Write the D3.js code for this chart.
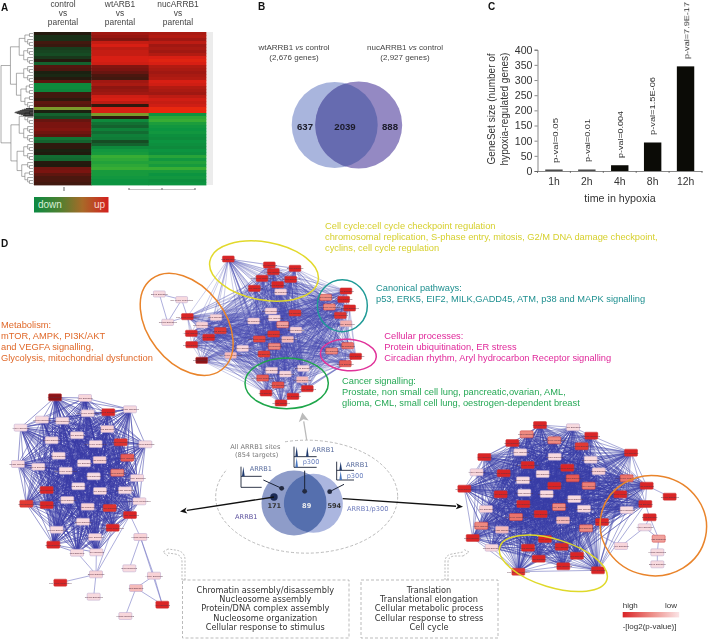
<!DOCTYPE html>
<html><head><meta charset="utf-8">
<script src="https://cdn.jsdelivr.net/npm/d3@7"></script>
<style>
html,body{margin:0;padding:0;background:#fff}
svg{display:block;filter:blur(0.45px)}
text{font-family:"Liberation Sans",Arial,sans-serif}
.dv{font-family:"DejaVu Sans",sans-serif}
</style></head><body>
<svg id="c" width="708" height="639" viewBox="0 0 708 639"></svg>
<script>
// ---------- Panel A data ----------
const heatColumns = ["control vs parental","wtARB1 vs parental","nucARRB1 vs parental"];
const heatControl = [.05,-.15,-.15,.2,.15,-.25,-.3,-.35,-.2,.05,-.5,.3,.25,-.05,-.1,.05,.35,-.9,-.9,-.85,.2,.2,.1,.35,.3,-1.8,-.05,-.5,-.35,.4,.5,.5,.55,.45,.35,-.7,-.5,.1,.1,-.05,.02,-.6,-.55,.05,.02,.45,.5,.35,.25,.25,.2];
const heatWt = [.7,.65,.55,.9,1,.85,.9,.9,1,1,.95,.55,.5,.4,.25,.2,.7,.75,.6,.65,.7,.95,1,.85,.1,1,1,-1.8,.1,-.9,-.65,-.5,-.8,-.6,-.8,-.75,-.35,-.5,-.9,-1.05,-1.1,-1.4,-1.3,-1.2,-1.3,-1.4,-1.1,-1.1,-1.05,-1,-1];
const heatNuc = [.75,.8,.7,.85,.7,.75,.7,.8,1,1.05,1,.8,.75,.7,.75,.8,1,.95,.8,.75,.7,.85,.95,.9,.95,1.1,1.1,-1,-1.3,-1.4,-1.15,-1.05,-1,-1.05,-.95,-.9,-1,-.95,-.9,-1,-.95,-1.25,-1.05,-1.2,-1.1,-1.4,-1.1,-1,-1.05,-.95,-1];
const heatHeaders = [["control","vs","parental"],["wtARB1","vs","parental"],["nucARRB1","vs","parental"]];
// ---------- Panel B data ----------
const vennGenes = [637,2039,888];
const vennTitles = [["wtARRB1 ","vs"," control","(2,676 genes)"],["nucARRB1 ","vs"," control","(2,927 genes)"]];
// ---------- Panel C data ----------
const hypoxiaTimes = ["1h","2h","4h","8h","12h"];
const hypoxiaSizes = [5,5,19,94,345];
const hypoxiaPvals = ["p-val=0.05","p-val=0.01","p-val=0.004","p-val=1.5E-06","p-val=7.9E-17"];
const hypoxiaTicks = [0,50,100,150,200,250,300,350,400];
// ---------- Panel D networks: node layout [x, y, significance] in layout units ----------
const topNodes = [[295,132,1],[418,150,1],[430,170,1],[495,160,1],[396,190,1],[482,193,1],[443,209,1],[373,220,1],[452,231,.2],
[648,228,1],[641,253,1],[587,247,.5],[598,276,.5],[659,279,1],[631,301,.9],[648,326,.35],
[653,392,.6],[605,408,.5],[677,424,1],[646,446,.7],
[172,305,1],[216,330,.2],[258,307,.2],[184,355,1],[271,347,.85],[236,367,1],[185,389,1],[215,436,1.4],[302,421,.3],
[423,288,.2],[495,294,.9],[433,309,.15],[371,318,.2],[458,329,.4],[431,357,.9],[498,345,.2],[388,372,.8],[473,373,.3],[433,394,.5],[338,400,.15],[402,417,.85],
[425,466,.15],[466,477,.15],[520,460,.1],[398,489,.7],[517,494,.3],[444,510,.75],[532,521,1],[408,534,1],[489,544,1],[453,564,1]];
const topOuter = [[88,237,.1],[155,254,.1],[113,322,.1]];
const topOuterLinks = [[0,1],[0,2],[1,"c20"],[2,"c20"],[2,1]];
const leftNodes = [[165,52,1.4],[255,54,.15],[390,88,.1],[325,97,1],[263,100,.1],[126,119,.1],[187,122,.1],[62,143,.05],[322,147,.2],[231,166,.1],[155,181,.1],[362,187,.9],[287,192,.1],[436,193,.1],[176,227,.1],[382,233,.7],[299,240,.2],[252,250,.05],[54,252,.1],[115,260,.1],[197,272,.1],[352,278,.5],[281,289,.05],[411,294,.1],[235,319,.05],[300,333,.1],[375,331,.1],[140,330,1],[418,364,.1],[202,360,.1],[79,371,.85],[140,375,1],[263,380,.2],[329,384,.9],[390,405,1],[249,425,.1],[338,443,1],[170,449,.1],[160,494,1],[285,471,.15],[231,518,.1],[289,517,.1]];
const leftOuter = [[421,471,.2],[288,583,.2],[181,608,1],[281,650,.1],[388,565,.1],[462,587,.2],[408,624,.3],[487,674,1],[376,708,.15]];
const leftOuterLinks = [[0,"c34"],[0,4],[0,5],[0,7],[5,6],[6,7],[6,8],[5,7],[1,2],[1,3],[1,"c40"],[1,"c41"],[1,"c34"],[1,"c36"]];
const rightNodes = [[300,135,1],[399,142,.1],[454,167,1],[260,163,.5],[343,181,.5],[425,199,.85],[217,189,1],[241,217,.1],[573,218,1],[133,231,1],[344,230,.1],[452,239,.1],[263,255,1],[382,263,1],[476,274,.2],[110,277,.15],[191,280,1],[308,282,.1],[398,295,.7],[249,301,.1],[560,295,.6],[73,326,1],[343,317,1],[446,317,.55],[620,317,1],[182,343,1],[253,338,.05],[320,342,.1],[541,343,1],[403,357,.1],[250,372,1],[357,381,.5],[616,372,1],[138,387,.2],[432,386,.1],[560,390,.1],[228,411,.6],[302,402,1],[369,421,.3],[124,437,.5],[438,445,.5],[486,426,1],[186,449,.3],[98,474,1],[315,477,1],[155,503,.15],[264,503,1],[365,500,1],[411,527,1],[296,536,1],[370,559,1],[474,571,1],[235,575,.9]];
const rightOuter = [[689,350,1],[629,412,1],[614,442,.1],[656,476,.4],[543,498,.15],[652,517,.1],[652,553,.1]];
const rightOuterLinks = [[1,2],[1,3],[2,3],[2,4],[3,5],[5,6],[4,"c40"],[1,"c32"],[0,"c24"]];
const pathwayNames = ["p53 Signaling","ATM Signaling","mTOR Signaling","ERK5 Signaling","Cell Cycle Regulation","Glioma Signaling","EIF2 Signaling","AMPK Signaling"];
// Panel D text
const themeTexts = [
 {col:"#d6d02e",lines:["Cell cycle:cell cycle checkpoint regulation","chromosomal replication, S-phase entry, mitosis, G2/M DNA damage checkpoint,","cyclins, cell cycle regulation"],x:325,y:229,dy:11.2},
 {col:"#1f9090",lines:["Canonical pathways:","p53, ERK5, EIF2, MILK,GADD45, ATM, p38 and MAPK signalling"],x:376,y:291,dy:11},
 {col:"#e0289a",lines:["Cellular processes:","Protein ubiquitination, ER stress","Circadian rhythm, Aryl hydrocarbon Receptor signalling"],x:384.3,y:339,dy:10.8},
 {col:"#25a855",lines:["Cancer signalling:","Prostate, non small cell lung, pancreatic,ovarian, AML,","glioma, CML, small cell lung, oestrogen-dependent breast"],x:342,y:384,dy:11},
 {col:"#e0692a",lines:["Metabolism:","mTOR, AMPK, PI3K/AKT","and VEGFA signalling,","Glycolysis, mitochondrial dysfunction"],x:1,y:328,dy:11}];
const leftBoxLines = ["Chromatin assembly/disassembly","Nucleosome assembly","Protein/DNA complex assembly","Nucleosome organization","Cellular response to stimulus"];
const rightBoxLines = ["Translation","Translational elongation","Cellular metabolic process","Cellular response to stress","Cell cycle"];
const arrbCounts = [171,89,594];

const svg = d3.select("#c");
const T=(g,x,y,s,size,col,anchor,weight)=>g.append("text").attr("x",x).attr("y",y).text(s).attr("font-size",size).attr("fill",col||"#333").attr("text-anchor",anchor||"start").attr("font-weight",weight||null);
const letter=(s,x,y)=>T(svg,x,y,s,10,"#111","start","bold");
letter("A",1,11);letter("B",258,10);letter("C",488,10);letter("D",1,247);

// ===== A =====
const gA = svg.append("g");
const heatColor = d3.scaleLinear().domain([-1.8,-1.4,-1,-.5,0,.5,1,1.1]).range(["#7c9a2c","#38ad34","#0c9440","#14622e","#1c1a0e","#7a1410","#d81f14","#e8280f"]);
const rowIdx = d3.range(heatControl.length);
const xHeat = d3.scaleBand().domain(heatColumns).range([34,206]);
const yHeat = d3.scaleBand().domain(rowIdx).range([32,185]);
[heatControl,heatWt,heatNuc].forEach((vals,c)=>{
  gA.append("g").selectAll("rect").data(vals).join("rect")
    .attr("x",xHeat(heatColumns[c])).attr("width",xHeat.bandwidth()+.4)
    .attr("y",(d,i)=>yHeat(i)).attr("height",yHeat.bandwidth()+.4).attr("fill",d=>heatColor(d));
  heatHeaders[c].forEach((s,i)=>{
    const cx=[63,120,178][c], y0=[7,6.8,6.6][c];
    T(gA,cx,y0+i*9,s,8.4,"#444","middle");
  });
});
gA.append("rect").attr("x",207).attr("y",32).attr("width",6).attr("height",153).attr("fill","#ececec");
// dendrogram from row-order tree
function makeTree(lo,hi){
  const n={lo,hi};
  if(hi-lo>1){const m=lo+Math.max(1,Math.round((hi-lo)*.42));n.children=[makeTree(lo,m),makeTree(m,hi)];}
  return n;
}
const leafCount=heatControl.length;
const tree=d3.hierarchy({lo:0,hi:leafCount,children:[makeTree(0,26),makeTree(26,leafCount)]});
const dx=d3.scalePow().exponent(.42).domain([leafCount,1]).range([1,32]);
tree.eachAfter(d=>{d.py=d.children?d3.mean(d.children,c=>c.py):yHeat(d.data.lo)+yHeat.bandwidth()/2;d.px=d.children?dx(d.data.hi-d.data.lo):33;});
gA.append("g").selectAll("path").data(tree.links()).join("path")
 .attr("d",l=>`M${l.source.px},${l.source.py}V${l.target.py}H${l.target.px}`)
 .attr("fill","none").attr("stroke","#666").attr("stroke-width",.55);
// tight central tuft of near-identical rows
gA.append("g").selectAll("line").data(d3.range(108.5,116.5,.7)).join("line")
 .attr("x1",y=>14+Math.abs(y-112.5)*3).attr("x2",33.5).attr("y1",y=>y).attr("y2",y=>y).attr("stroke","#000").attr("stroke-width",.7);
gA.append("line").attr("x1",33.6).attr("x2",33.6).attr("y1",32).attr("y2",185).attr("stroke","#222").attr("stroke-width",.5).attr("opacity",.5);
// column ticks under heatmap
[[64,0],[129,1],[162,1],[195,1]].forEach(t=>gA.append("line").attr("x1",t[0]).attr("x2",t[0]).attr("y1",t[1]?188:187).attr("y2",t[1]?190:191).attr("stroke","#222").attr("stroke-width",.7));
gA.append("line").attr("x1",129).attr("x2",195).attr("y1",189.5).attr("y2",189.5).attr("stroke","#888").attr("stroke-width",.5);
const defs=svg.append("defs");
const lg=defs.append("linearGradient").attr("id","dn");
[[0,"#0b8a42"],[.35,"#4f8030"],[.65,"#a86a28"],[1,"#d4201e"]].forEach(s=>lg.append("stop").attr("offset",s[0]).attr("stop-color",s[1]));
gA.append("rect").attr("x",34).attr("y",197).attr("width",74.5).attr("height",15.5).attr("fill","url(#dn)");
T(gA,38,208,"down",10,"#d8efd8");T(gA,94,208,"up",10,"#f8d8d0");

// ===== B =====
const gB=svg.append("g");
const vennL={x:334.7,y:125,r:43}, vennR={x:358.7,y:125,r:43.5};
defs.append("clipPath").attr("id","vc").append("circle").attr("cx",vennL.x).attr("cy",vennL.y).attr("r",vennL.r);
gB.append("circle").attr("cx",vennL.x).attr("cy",vennL.y).attr("r",vennL.r).attr("fill","#a9b5dd");
gB.append("circle").attr("cx",vennR.x).attr("cy",vennR.y).attr("r",vennR.r).attr("fill","#9489c3");
gB.append("circle").attr("cx",vennR.x).attr("cy",vennR.y).attr("r",vennR.r).attr("fill","#666bb0").attr("clip-path","url(#vc)");
[305,345,390].forEach((x,i)=>T(gB,x,130.3,vennGenes[i],9.6,"#1a1a28","middle","bold"));
vennTitles.forEach((t,i)=>{
  const cx=[294,405][i];
  const a=T(gB,cx,50,"",8,"#444","middle");
  a.append("tspan").text(t[0]);a.append("tspan").text(t[1]).attr("font-style","italic");a.append("tspan").text(t[2]);
  T(gB,cx,59.6,t[3],8,"#444","middle");
});

// ===== C =====
const gC=svg.append("g");
const yC=d3.scaleLinear().domain([0,400]).range([171,49.7]);
const xC=d3.scaleBand().domain(hypoxiaTimes).range([537.5,702]);
gC.selectAll("rect").data(hypoxiaSizes).join("rect")
 .attr("x",(d,i)=>xC(hypoxiaTimes[i])+xC.bandwidth()/2-8.7).attr("width",17.4)
 .attr("y",d=>yC(d)).attr("height",d=>171-yC(d)).attr("fill",d=>d<10?"#4a4a4a":"#0b0b06");
const axL=gC.append("g").attr("transform","translate(537.5,0)").call(d3.axisLeft(yC).tickValues(hypoxiaTicks).tickSize(3).tickPadding(2));
axL.selectAll("text").attr("font-size",10.6).attr("fill","#333").attr("font-family",null);
axL.selectAll("line,path").attr("stroke","#555").attr("stroke-width",.7);
const axB=gC.append("g").attr("transform","translate(0,171)").call(d3.axisBottom(xC).tickSize(0).tickPadding(7));
axB.selectAll("text").attr("font-size",10.4).attr("fill","#333").attr("font-family",null);
axB.selectAll("path").attr("stroke","#555").attr("stroke-width",.7);
hypoxiaTimes.forEach((t,i)=>gC.append("line").attr("x1",xC(t)).attr("x2",xC(t)).attr("y1",171).attr("y2",173).attr("stroke","#555").attr("stroke-width",.7));
gC.append("line").attr("x1",702).attr("x2",702).attr("y1",171).attr("y2",173).attr("stroke","#555").attr("stroke-width",.7);
T(gC,620,201.5,"time in hypoxia",10.7,"#333","middle");
const rot=(x,y,s,size,anchor,len)=>{const t=gC.append("text").attr("transform",`translate(${x},${y}) rotate(-90)`).text(s).attr("font-size",size).attr("fill","#333").attr("text-anchor",anchor);if(len)t.attr("textLength",len).attr("lengthAdjust","spacingAndGlyphs");return t;};
rot(495,109,"GeneSet size (number of",10,"middle");
rot(507.5,109,"hypoxia-regulated genes)",10,"middle");
const pvalX=[555.7,587,620,652.7,686.7], pvalY=[163,162,158,135,59], pvalLen=[45,43,47,58,57];
hypoxiaPvals.forEach((s,i)=>rot(pvalX[i]+2.5,pvalY[i],s,8,"start",pvalLen[i]));

// ===== D networks =====
const nodeColor=d3.scaleLinear().domain([0,.2,.5,.85,1,1.4]).range(["#f8e2e8","#f8d2d6","#ee8a80","#e23a34","#da2526","#8a1418"]);
function network(nodes,outer,links,frame,opts){
  const g=svg.append("g");
  const sx=d3.scaleLinear().domain([0,frame.w]).range([frame.x,frame.x+frame.w/3]);
  const sy=d3.scaleLinear().domain([0,frame.h]).range([frame.y,frame.y+frame.h/3]);
  const edges=[];
  for(let i=0;i<nodes.length;i++)for(let j=i+1;j<nodes.length;j++) if((i+j)%opts.skip!==0) edges.push([nodes[i],nodes[j]]);
  g.append("g").selectAll("line").data(edges).join("line")
   .attr("x1",e=>sx(e[0][0])).attr("y1",e=>sy(e[0][1])).attr("x2",e=>sx(e[1][0])).attr("y2",e=>sy(e[1][1]))
   .attr("stroke",opts.edge).attr("stroke-opacity",opts.op).attr("stroke-width",opts.sw);
  const ext=links.map(l=>[outer[l[0]],typeof l[1]==="string"?nodes[+l[1].slice(1)]:outer[l[1]]]);
  g.append("g").selectAll("line").data(ext).join("line")
   .attr("x1",e=>sx(e[0][0])).attr("y1",e=>sy(e[0][1])).attr("x2",e=>sx(e[1][0])).attr("y2",e=>sy(e[1][1]))
   .attr("stroke","#6a6cc0").attr("stroke-opacity",.85).attr("stroke-width",.65);
  const all=nodes.concat(outer);
  const ng=g.append("g").selectAll("g").data(all).join("g").attr("transform",d=>`translate(${sx(d[0])},${sy(d[1])})`);
  ng.append("rect").attr("x",-opts.nw/2).attr("y",-opts.nh/2).attr("width",opts.nw).attr("height",opts.nh).attr("rx",1)
    .attr("fill",d=>nodeColor(d[2])).attr("stroke",d=>d[2]<.4?"#b8a4cc":"#c83a3a").attr("stroke-width",.5);
  ng.append("text").attr("class","nl").text((d,i)=>pathwayNames[i%pathwayNames.length]).attr("text-anchor","middle").attr("y",.9).attr("font-size",2.4).attr("fill","#5a3444");
  return {g,sx,sy};
}
const ringsTop=[[402,168,165,87,10,"#e2d92c"],[170,328,172,115,52,"#e9842b"],[637,272,75,78,0,"#1f9a96"],[655,420,84,47,4,"#e0339a"],[470,505,125,76,0,"#1ea64a"]];
const ringsRight=[[340,550,168,72,17,"#dfd92a"],[640,437,160,150,12,"#e9842b"]];
const n1=network(topNodes,topOuter,topOuterLinks,{x:130,y:215,w:810,h:600},{skip:7,edge:"#4548ae",op:.55,sw:.5,nw:11.8,nh:6.2});
const n2=network(leftNodes,leftOuter,leftOuterLinks,{x:0,y:380,w:600,h:777},{skip:9,edge:"#393ca6",op:.8,sw:.65,nw:13,nh:7});
const n3=network(rightNodes,rightOuter,rightOuterLinks,{x:440,y:380,w:804,h:777},{skip:9,edge:"#393ca6",op:.72,sw:.6,nw:13,nh:7});
const ring=(n,r)=>n.g.append("ellipse").attr("transform",`translate(${n.sx(r[0])},${n.sy(r[1])}) rotate(${r[4]})`).attr("rx",r[2]/3).attr("ry",r[3]/3).attr("fill","none").attr("stroke",r[5]).attr("stroke-width",1.5);
ringsTop.forEach(r=>ring(n1,r));ringsRight.forEach(r=>ring(n3,r));

themeTexts.forEach(t=>t.lines.forEach((s,i)=>T(svg,t.x,t.y+i*t.dy,s,9.3,t.col)));

// ===== centre Venn =====
const gV=svg.append("g");
const zx=v=>190+v/3, zy=v=>400+v/3;
gV.append("ellipse").attr("cx",zx(350)).attr("cy",zy(290)).attr("rx",91).attr("ry",56.5).attr("fill","#fff").attr("stroke","#aaa").attr("stroke-width",.8).attr("stroke-dasharray","3 2");
gV.append("rect").attr("x",zx(110)).attr("y",zy(120)).attr("width",58).attr("height",60).attr("fill","#fff");
defs.append("clipPath").attr("id","vc2").append("circle").attr("cx",zx(312)).attr("cy",zy(309)).attr("r",32.5);
gV.append("circle").attr("cx",zx(312)).attr("cy",zy(309)).attr("r",32.5).attr("fill","#8e9cc9");
gV.append("circle").attr("cx",zx(370)).attr("cy",zy(310)).attr("r",29.5).attr("fill","#abb6df");
gV.append("circle").attr("cx",zx(370)).attr("cy",zy(310)).attr("r",29.5).attr("fill","#556fae").attr("clip-path","url(#vc2)");
const dv=(g,x,y,s,size,col,anchor,w)=>T(g,x,y,s,size,col,anchor,w).attr("class","dv");
dv(gV,zx(253),508,arrbCounts[0],6.6,"#333","middle","bold");
dv(gV,zx(350),508,arrbCounts[1],6.6,"#eee","middle","bold");
dv(gV,zx(433),508,arrbCounts[2],6.6,"#333","middle","bold");
dv(gV,246.3,518.5,"ARRB1",6.6,"#5a4f9c","middle");
dv(gV,367.7,511,"ARRB1/p300",6.6,"#6c7abb","middle");
dv(gV,255.3,448.5,"All ARRB1 sites",6.6,"#777","middle");
dv(gV,256.7,456.5,"(854 targets)",6.6,"#777","middle");
// tracks icons
const icons=[{vx:153,top:200,mid:229,bot:262,right:215,peaks:[160],low:[],labels:[["ARRB1",179,212]]},
 {vx:312,top:140,mid:170,bot:202,right:380,peaks:[320,352],low:[320],labels:[["ARRB1",366,156],["p300",338,192]]},
 {vx:440,top:185,mid:211,bot:240,right:492,peaks:[452],low:[452],labels:[["ARRB1",468,202],["p300",470,234]]}];
icons.forEach(ic=>{
  const st="#1c2438";
  gV.append("path").attr("d",`M${zx(ic.vx)},${zy(ic.top)}V${zy(ic.bot)}H${zx(ic.right)}M${zx(ic.vx)},${zy(ic.mid)}H${zx(ic.right)}`).attr("fill","none").attr("stroke",st).attr("stroke-width",.9);
  ic.peaks.forEach(p=>gV.append("path").attr("d",`M${zx(p-4)},${zy(ic.mid)}L${zx(p)},${zy(ic.top)}L${zx(p+4)},${zy(ic.mid)}Z`).attr("fill","#1f3a6e"));
  ic.low.forEach(p=>gV.append("path").attr("d",`M${zx(p-4)},${zy(ic.bot)}L${zx(p)},${zy(ic.mid+2)}L${zx(p+4)},${zy(ic.bot)}Z`).attr("fill","#4a78c0"));
  ic.labels.forEach(l=>dv(gV,zx(l[1]),zy(l[2]),l[0],6.6,l[0]=="p300"?"#6c82c0":"#566a9c"));
});
const seg=(x1,y1,x2,y2,c,w)=>gV.append("line").attr("x1",zx(x1)).attr("y1",zy(y1)).attr("x2",zx(x2)).attr("y2",zy(y2)).attr("stroke",c).attr("stroke-width",w);
const dot=(x,y,r,c)=>gV.append("circle").attr("cx",zx(x)).attr("cy",zy(y)).attr("r",r).attr("fill",c);
seg(220,240,275,265,"#1c2438",1);seg(344,212,344,274,"#1c2438",1);seg(462,253,419,275,"#1c2438",1);
dot(275,265,2.4,"#232a40");dot(344,274,2.4,"#232a40");dot(419,275,2.4,"#232a40");dot(252,291,3.7,"#1c2a55");
// big arrows
const arrow=(x1,y1,x2,y2,c,w,hl,hw)=>{
  const a=Math.atan2(y2-y1,x2-x1),bx=x2-hl*Math.cos(a),by=y2-hl*Math.sin(a),nx=-Math.sin(a)*hw/2,ny=Math.cos(a)*hw/2;
  gV.append("line").attr("x1",x1).attr("y1",y1).attr("x2",bx).attr("y2",by).attr("stroke",c).attr("stroke-width",w);
  gV.append("path").attr("d",`M${x2},${y2}L${bx+nx},${by+ny}L${bx+.25*hl*Math.cos(a)},${by+.25*hl*Math.sin(a)}L${bx-nx},${by-ny}Z`).attr("fill",c);
};
arrow(zx(252),zy(291),180,511.5,"#111",1.3,7,6);
arrow(342.7,498.7,463,506.7,"#111",1.3,7,6);
arrow(306.7,440,302.3,412.5,"#bbb",1.3,9,10);
// bottom boxes
const box=(x,y,w,h)=>svg.append("rect").attr("x",x).attr("y",y).attr("width",w).attr("height",h).attr("fill","#fff").attr("stroke","#aaa").attr("stroke-width",.8).attr("stroke-dasharray","3 2");
box(182.5,580,166.5,58);box(361,580,137,58);
leftBoxLines.forEach((s,i)=>dv(svg,265.3,592.5+i*9.35,s,8.2,"#333","middle"));
rightBoxLines.forEach((s,i)=>dv(svg,429,592.5+i*9.35,s,8.2,"#333","middle"));
const dashedHook=d=>{svg.append("path").attr("d",d).attr("fill","none").attr("stroke","#aaa").attr("stroke-width",.8).attr("stroke-dasharray","2 1.5");};
dashedHook("M182,580V562Q182,555 175,554L168,553M168,549L163,552L168,556M185,580V560Q185,551 175,550L168,549");
dashedHook("M445,580V562Q445,555 452,554L463,552M463,556L469,552L463,549M448,580V562Q448,557 454,556L463,556");
// legend
const lg2=defs.append("linearGradient").attr("id","pv");
[[0,"#d92326"],[.5,"#ec8a84"],[1,"#fbe4e6"]].forEach(s=>lg2.append("stop").attr("offset",s[0]).attr("stop-color",s[1]));
svg.append("rect").attr("x",622.7).attr("y",612).attr("width",56.5).attr("height",5.4).attr("fill","url(#pv)");
T(svg,622.7,607.8,"high",8,"#333");T(svg,677,607.8,"low",8,"#333","end");
T(svg,622.7,628.5,"-[log2(p-value)]",8,"#333");
</script></body></html>
